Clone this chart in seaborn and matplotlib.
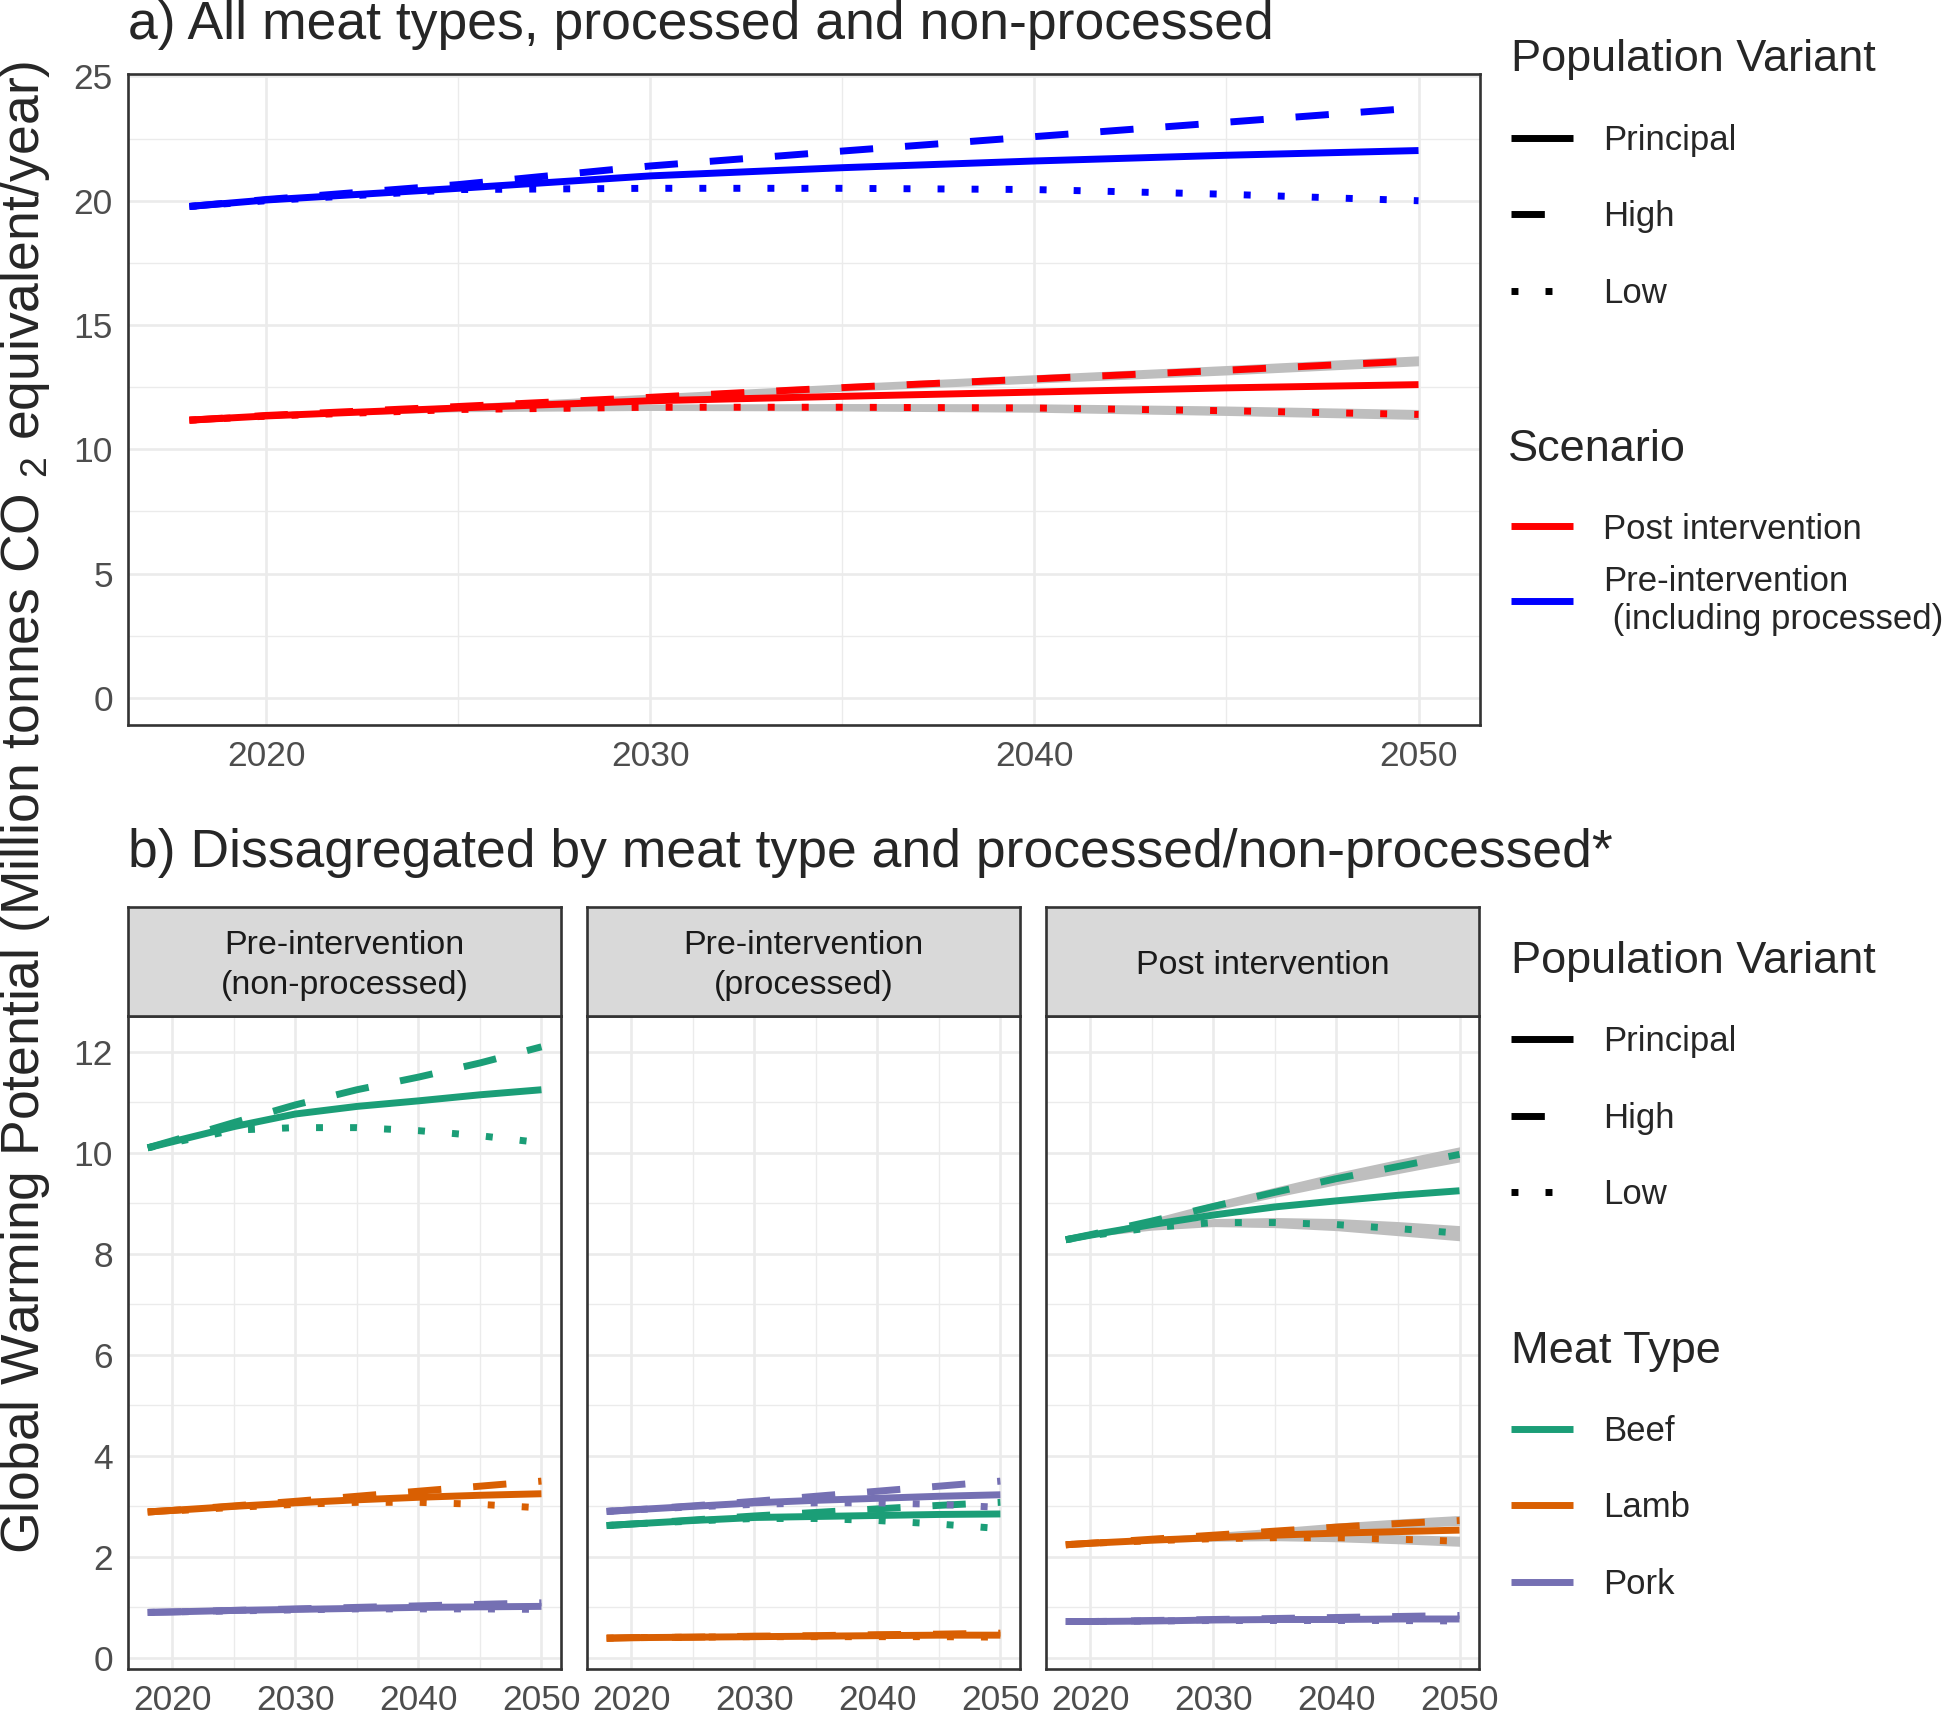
"""
Global warming potential of meat consumption, 2018-2050
a) all meat types, b) by meat type and processed / non-processed
"""
import matplotlib
matplotlib.use("Agg")
import matplotlib.pyplot as plt
from matplotlib.lines import Line2D
import pandas as pd
import seaborn as sns

YEARS = [2018, 2020, 2025, 2030, 2035, 2040, 2045, 2050]
VARIANTS = ["Principal", "High", "Low"]

# a) all meat types (Million tonnes CO2e / year)
A_PRE_PRINCIPAL = [19.77, 20.03, 20.50, 21.00, 21.33, 21.60, 21.83, 22.02]
A_PRE_HIGH = [19.77, 20.05, 20.65, 21.40, 22.00, 22.58, 23.16, 23.74]
A_PRE_LOW = [19.77, 20.00, 20.45, 20.50, 20.50, 20.45, 20.26, 20.00]
A_POST_PRINCIPAL = [11.17, 11.34, 11.66, 11.95, 12.13, 12.30, 12.47, 12.60]
A_POST_HIGH = [11.17, 11.36, 11.72, 12.09, 12.48, 12.83, 13.18, 13.56]
A_POST_LOW = [11.17, 11.33, 11.60, 11.69, 11.69, 11.66, 11.55, 11.40]
A_RIBBON = [0.0, 0.04, 0.09, 0.13, 0.15, 0.17, 0.19, 0.20]

# b) by meat type, each entry = (principal, high, low)
B_NONPROC_BEEF = ([10.10, 10.22, 10.52, 10.77, 10.92, 11.03, 11.15, 11.25],
                  [10.10, 10.24, 10.60, 10.95, 11.25, 11.50, 11.78, 12.10],
                  [10.10, 10.20, 10.45, 10.50, 10.50, 10.44, 10.34, 10.20])
B_NONPROC_LAMB = ([2.89, 2.92, 3.00, 3.07, 3.13, 3.18, 3.22, 3.25],
                  [2.89, 2.92, 3.01, 3.10, 3.20, 3.30, 3.40, 3.50],
                  [2.89, 2.91, 2.98, 3.04, 3.08, 3.08, 3.04, 2.97])
B_NONPROC_PORK = ([0.90, 0.91, 0.94, 0.96, 0.98, 1.00, 1.01, 1.02],
                  [0.90, 0.91, 0.94, 0.97, 1.00, 1.03, 1.06, 1.09],
                  [0.90, 0.91, 0.93, 0.95, 0.97, 0.97, 0.97, 0.96])

B_PROC_BEEF = ([2.62, 2.65, 2.72, 2.78, 2.80, 2.82, 2.84, 2.85],
               [2.62, 2.65, 2.73, 2.81, 2.88, 2.95, 3.02, 3.08],
               [2.62, 2.65, 2.71, 2.76, 2.76, 2.72, 2.65, 2.56])
B_PROC_LAMB = ([0.39, 0.40, 0.41, 0.42, 0.43, 0.44, 0.45, 0.45],
               [0.39, 0.40, 0.41, 0.43, 0.44, 0.46, 0.47, 0.49],
               [0.39, 0.40, 0.41, 0.42, 0.42, 0.42, 0.42, 0.41])
B_PROC_PORK = ([2.90, 2.93, 3.00, 3.07, 3.12, 3.16, 3.20, 3.23],
               [2.90, 2.93, 3.01, 3.10, 3.20, 3.30, 3.40, 3.50],
               [2.90, 2.93, 2.99, 3.04, 3.07, 3.07, 3.04, 2.98])

B_POST_BEEF = ([8.28, 8.37, 8.58, 8.77, 8.93, 9.05, 9.16, 9.25],
               [8.28, 8.38, 8.65, 8.94, 9.22, 9.49, 9.73, 9.97],
               [8.28, 8.36, 8.52, 8.62, 8.62, 8.58, 8.50, 8.41])
B_POST_LAMB = ([2.24, 2.27, 2.33, 2.38, 2.43, 2.47, 2.50, 2.53],
               [2.24, 2.27, 2.35, 2.43, 2.51, 2.59, 2.66, 2.72],
               [2.24, 2.27, 2.32, 2.36, 2.38, 2.38, 2.35, 2.31])
B_POST_PORK = ([0.72, 0.72, 0.73, 0.75, 0.76, 0.76, 0.77, 0.77],
               [0.72, 0.72, 0.74, 0.76, 0.78, 0.80, 0.82, 0.84],
               [0.72, 0.72, 0.73, 0.74, 0.74, 0.74, 0.74, 0.73])
# grey uncertainty band half-widths (post intervention only)
B_RIBBON_BEEF = [0.0, 0.02, 0.05, 0.08, 0.10, 0.12, 0.14, 0.15]
B_RIBBON_LAMB = [0.0, 0.01, 0.03, 0.05, 0.06, 0.08, 0.09, 0.10]

SCENARIOS = ["Post intervention", "Pre-intervention\n (including processed)"]
MEATS = ["Beef", "Lamb", "Pork"]
FACETS = ["Pre-intervention\n(non-processed)", "Pre-intervention\n(processed)",
          "Post intervention"]

SCEN_COLORS = {SCENARIOS[0]: "#FF0000", SCENARIOS[1]: "#0000FF"}
MEAT_COLORS = {"Beef": "#1B9E77", "Lamb": "#D95F02", "Pork": "#7570B3"}
DASHES = {"Principal": "", "High": (4.8, 4.6), "Low": (1.0, 3.9)}
RIBBON_COLOR = "#BEBEBE"
LW = 5


def long_frame(series, group_col):
    """series: {group: (principal, high, low)} -> long dataframe"""
    rows = []
    for group, triple in series.items():
        for variant, values in zip(VARIANTS, triple):
            for yr, v in zip(YEARS, values):
                rows.append({group_col: group, "variant": variant,
                             "year": yr, "gwp": v})
    return pd.DataFrame(rows)


def style_axes(ax, yticks, yminor, show_ylabels=True):
    ax.set_xlim(2016.4, 2051.6)
    ax.set_xticks([2020, 2030, 2040, 2050])
    ax.set_xticks([2025, 2035, 2045], minor=True)
    ax.set_yticks(yticks)
    ax.set_yticks(yminor, minor=True)
    ax.grid(which="major", color="#EBEBEB", lw=1.9)
    ax.grid(which="minor", color="#EBEBEB", lw=1.0)
    ax.set_axisbelow(True)
    ax.tick_params(which="major", length=6, width=1.8, color="#333333",
                   labelsize=25.5, labelcolor="#4D4D4D", pad=5)
    ax.tick_params(which="minor", length=0)
    if not show_ylabels:
        ax.tick_params(axis="y", which="major", labelleft=False)
    for sp in ax.spines.values():
        sp.set_color("#333333")
        sp.set_linewidth(1.9)
    ax.set_xlabel("")
    ax.set_ylabel("")


def add_ribbons(ax, triple, half):
    # band around the high and low variants
    for values in triple[1:]:
        lo = [v - h for v, h in zip(values, half)]
        hi = [v + h for v, h in zip(values, half)]
        ax.fill_between(YEARS, lo, hi, color=RIBBON_COLOR, lw=0, zorder=1)


sns.set_style("white")
plt.rcParams["font.family"] = ["Liberation Sans", "DejaVu Sans"]
plt.rcParams["mathtext.fontset"] = "custom"
plt.rcParams["mathtext.rm"] = "Liberation Sans"
plt.rcParams["lines.solid_capstyle"] = "butt"

fig = plt.figure(figsize=(19.43, 17.17), dpi=100)

# ---- panel a ----
ax_a = fig.add_axes([0.0659, 0.5777, 0.6958, 0.3792])
a_series = {
    SCENARIOS[0]: (A_POST_PRINCIPAL, A_POST_HIGH, A_POST_LOW),
    SCENARIOS[1]: (A_PRE_PRINCIPAL, A_PRE_HIGH, A_PRE_LOW),
}
add_ribbons(ax_a, a_series[SCENARIOS[0]], A_RIBBON)
df_a = long_frame(a_series, "scenario")
sns.lineplot(data=df_a, x="year", y="gwp", hue="scenario", style="variant",
             hue_order=SCENARIOS, style_order=VARIANTS, palette=SCEN_COLORS,
             dashes=DASHES, linewidth=LW, errorbar=None, legend=False,
             ax=ax_a, zorder=2)
ax_a.set_ylim(-1.1, 25.1)
style_axes(ax_a, [0, 5, 10, 15, 20, 25], [2.5, 7.5, 12.5, 17.5, 22.5])
fig.text(0.0659, 0.9855, "a) All meat types, processed and non-processed",
         fontsize=38.5, ha="left", va="center")

# ---- panel b ----
b_data = [
    {"Beef": B_NONPROC_BEEF, "Lamb": B_NONPROC_LAMB, "Pork": B_NONPROC_PORK},
    {"Beef": B_PROC_BEEF, "Lamb": B_PROC_LAMB, "Pork": B_PROC_PORK},
    {"Beef": B_POST_BEEF, "Lamb": B_POST_LAMB, "Pork": B_POST_PORK},
]
lefts = [0.0659, 0.3021, 0.5384]
for i, (facet, series) in enumerate(zip(FACETS, b_data)):
    ax = fig.add_axes([lefts[i], 0.02796, 0.2229, 0.3803])
    if facet == "Post intervention":
        add_ribbons(ax, series["Beef"], B_RIBBON_BEEF)
        add_ribbons(ax, series["Lamb"], B_RIBBON_LAMB)
    df_b = long_frame(series, "meat")
    sns.lineplot(data=df_b, x="year", y="gwp", hue="meat", style="variant",
                 hue_order=MEATS, style_order=VARIANTS, palette=MEAT_COLORS,
                 dashes=DASHES, linewidth=LW, errorbar=None, legend=False,
                 ax=ax, zorder=2)
    ax.set_ylim(-0.22, 12.71)
    style_axes(ax, [0, 2, 4, 6, 8, 10, 12], [1, 3, 5, 7, 9, 11],
               show_ylabels=(i == 0))

    strip = fig.add_axes([lefts[i], 0.4083, 0.2229, 0.0635])
    strip.set_facecolor("#D9D9D9")
    strip.set_xticks([])
    strip.set_yticks([])
    for sp in strip.spines.values():
        sp.set_color("#333333")
        sp.set_linewidth(1.9)
    strip.text(0.5, 0.46, facet, ha="center", va="center", fontsize=24.5,
               color="#1A1A1A", linespacing=1.36, transform=strip.transAxes)

fig.text(0.0659, 0.503,
         "b) Dissagregated by meat type and processed/non-processed*",
         fontsize=38.5, ha="left", va="center")

fig.text(0.013, 0.53,
         "Global Warming Potential (Million tonnes CO $_{2}$ equivalent/year)",
         fontsize=38.5, rotation=90, ha="center", va="center")

# ---- legends ----
variant_handles = [Line2D([], [], color="black", lw=LW,
                          linestyle="-" if DASHES[v] == "" else (0, DASHES[v]))
                   for v in VARIANTS]
scen_handles = [Line2D([], [], color=SCEN_COLORS[s], lw=LW) for s in SCENARIOS]
meat_handles = [Line2D([], [], color=MEAT_COLORS[m], lw=LW) for m in MEATS]

leg_kw = dict(loc="upper left", frameon=False, fontsize=25, title_fontsize=32.5,
              labelspacing=1.25, handlelength=1.8, handletextpad=0.85,
              borderpad=0, borderaxespad=0, alignment="left")

fig.legend(variant_handles, VARIANTS, title="Population Variant",
           bbox_to_anchor=(0.7775, 0.977), **leg_kw)
# scenario: title drawn separately so the two-line label sits tighter
fig.text(0.776, 0.738, "Scenario", fontsize=32.5, ha="left", va="center")
scen_kw = dict(leg_kw, labelspacing=0.55)
fig.legend(scen_handles, SCENARIOS, bbox_to_anchor=(0.7775, 0.7015), **scen_kw)
fig.legend(variant_handles, VARIANTS, title="Population Variant",
           bbox_to_anchor=(0.7775, 0.452), **leg_kw)
fig.legend(meat_handles, MEATS, title="Meat Type",
           bbox_to_anchor=(0.7775, 0.225), **leg_kw)

fig.savefig("out.png", dpi=100)
